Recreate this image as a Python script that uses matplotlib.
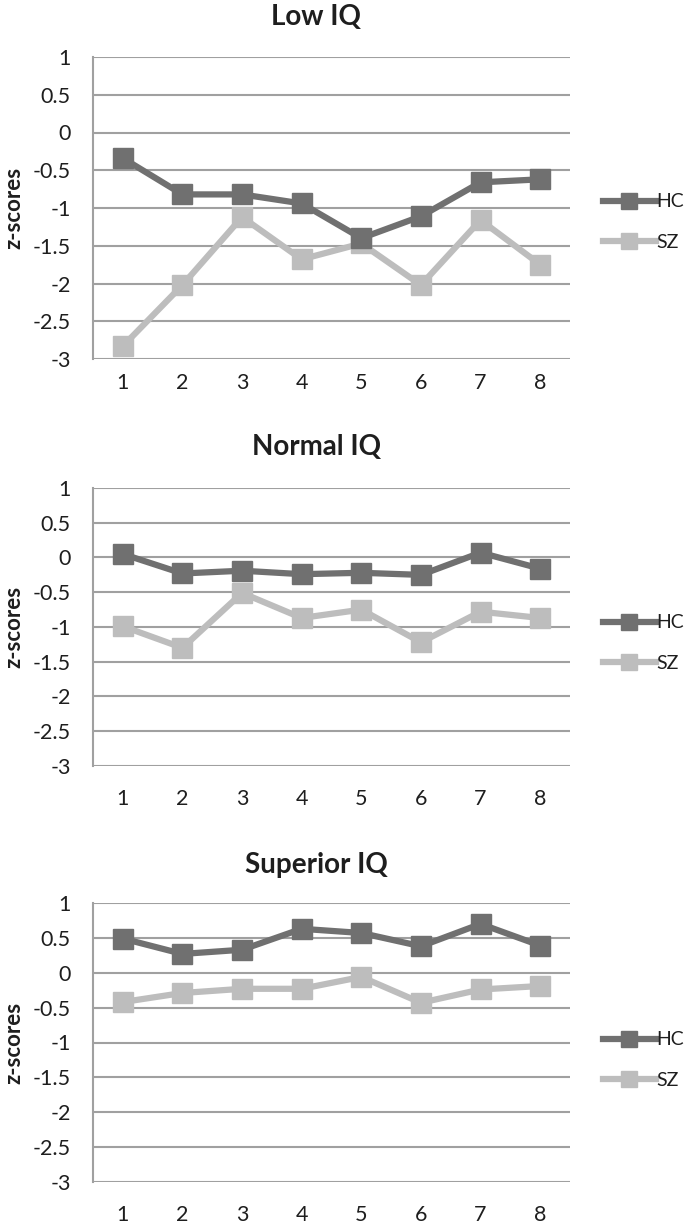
import matplotlib
matplotlib.use("Agg")
import matplotlib.pyplot as plt

plt.rcParams['font.family'] = ['Lato', 'DejaVu Sans']

# tasks 1..8, z-scores per IQ group
tasks = [1, 2, 3, 4, 5, 6, 7, 8]
titles = ["Low IQ", "Normal IQ", "Superior IQ"]

hc_low = [-0.34, -0.82, -0.82, -0.94, -1.40, -1.11, -0.66, -0.62]
sz_low = [-2.83, -2.02, -1.12, -1.68, -1.47, -2.02, -1.16, -1.75]

hc_normal = [0.05, -0.23, -0.19, -0.24, -0.22, -0.25, 0.07, -0.16]
sz_normal = [-0.99, -1.30, -0.51, -0.87, -0.75, -1.22, -0.78, -0.87]

hc_superior = [0.49, 0.27, 0.33, 0.63, 0.57, 0.38, 0.70, 0.39]
sz_superior = [-0.42, -0.29, -0.23, -0.23, -0.06, -0.43, -0.24, -0.19]

yticks = [1, 0.5, 0, -0.5, -1, -1.5, -2, -2.5, -3]
ytick_labels = ["1", "0.5", "0", "-0.5", "-1", "-1.5", "-2", "-2.5", "-3"]

HC_COLOR = "#707070"
SZ_COLOR = "#bdbdbd"
GRID = "#a0a0a0"
TEXT = "#1e1e1e"

W, H = 686, 1225
fig = plt.figure(figsize=(W / 100, H / 100), dpi=100)

# panel boxes in pixels: (top, bottom), title y, legend middle y, x-label pad
panels = [
    (57, 359, 17, 222, 10),
    (488, 766, 447, 643, 16.5),
    (903, 1182, 865, 1060, 16.5),
]
data = [(hc_low, sz_low), (hc_normal, sz_normal), (hc_superior, sz_superior)]

left, right = 93, 570
for (top, bottom, ty, ly, xpad), (hc, sz), title in zip(panels, data, titles):
    ax = fig.add_axes([left / W, 1 - bottom / H, (right - left) / W, (bottom - top) / H])
    ax.plot(tasks, hc, color=HC_COLOR, lw=4.5, marker="s", ms=15, label="HC", zorder=3)
    ax.plot(tasks, sz, color=SZ_COLOR, lw=4.5, marker="s", ms=15, label="SZ", zorder=2)
    ax.set_xlim(0.5, 8.5)
    ax.set_ylim(-3, 1)
    ax.set_yticks(yticks)
    ax.set_yticklabels(ytick_labels)
    ax.set_xticks(tasks)
    ax.grid(axis="y", color=GRID, lw=1.5)
    ax.set_axisbelow(True)
    for s in ["top", "right", "bottom"]:
        ax.spines[s].set_visible(False)
    ax.spines["left"].set_color(GRID)
    ax.spines["left"].set_linewidth(1.5)
    ax.tick_params(axis="y", length=0, pad=16, labelsize=15.5, labelcolor=TEXT)
    ax.tick_params(axis="x", length=0, pad=xpad, labelsize=15.5, labelcolor=TEXT)
    ax.set_ylabel("z-scores", fontsize=16, fontweight="bold", color=TEXT, va="center")
    ax.yaxis.set_label_coords(14 / W, 1 - (bottom + top) / 2 / H,
                              transform=fig.transFigure)
    fig.text(316 / W, 1 - ty / H, title, fontsize=20, fontweight="bold",
             ha="center", va="center", color=TEXT)
    leg = ax.legend(loc="center left", bbox_to_anchor=(603 / W, 1 - ly / H),
                    bbox_transform=fig.transFigure, frameon=False, fontsize=14,
                    handlelength=2.7, handletextpad=0.05, labelspacing=1.2,
                    borderpad=0, borderaxespad=0, markerscale=0.8)
    for t in leg.get_texts():
        t.set_color(TEXT)

fig.savefig("out.png", dpi=100)
